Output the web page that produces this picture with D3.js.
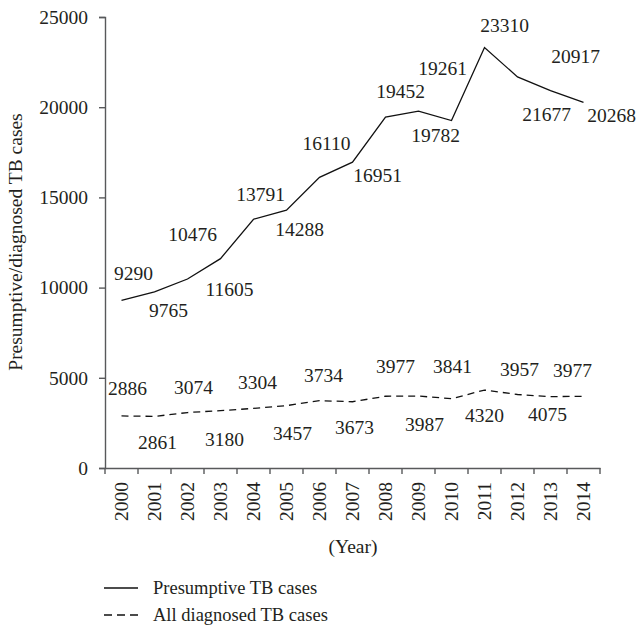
<!DOCTYPE html>
<html>
<head>
<meta charset="utf-8">
<script src="https://cdn.jsdelivr.net/npm/d3@7"></script>
<style>
  body { margin: 0; background: #fff; }
  text { font-family: "Liberation Serif", "DejaVu Serif", serif; fill: #231f20; }
</style>
</head>
<body>
<svg id="chart" width="638" height="631"></svg>
<script>
// data
var years = ['2000', '2001', '2002', '2003', '2004', '2005', '2006', '2007',
  '2008', '2009', '2010', '2011', '2012', '2013', '2014']
var presumptive = [9290, 9765, 10476, 11605, 13791, 14288, 16110, 16951,
  19452, 19782, 19261, 23310, 21677, 20917, 20268]
var diagnosed = [2886, 2861, 3074, 3180, 3304, 3457, 3734, 3673,
  3977, 3987, 3841, 4320, 4075, 3957, 3977]
var yTicks = [0, 5000, 10000, 15000, 20000, 25000]

// label nudges (px) from each point, the way the source places them
var presNudge = [[12, -20], [14, 25], [5, -38], [9, 37], [7, -18], [13, 26], [7, -27],
  [25, 20], [15, -19], [17, 31], [-9, -46], [20, -15], [29, 44], [25, -28], [28, 20]]
var diagNudge = [[6, -21], [3, 33], [6, -19], [4, 35], [4, -19], [6, 34], [4, -19],
  [2, 32], [10, -23], [6, 35], [1, -26], [0, 32], [30, 27], [-31, -21], [-11, -19]]

var svg = d3.select('#chart')
var fs = 19.5

var x = d3.scaleBand().domain(years).range([105, 600])
var y = d3.scaleLinear().domain([0, 25000]).range([468, 17])

var axisColor = '#58595b'

var yAxis = svg.append('g')
  .attr('transform', 'translate(105,0)')
  .call(d3.axisLeft(y).tickValues(yTicks).tickSize(6).tickPadding(11).tickFormat(d3.format('d')))
yAxis.select('.domain').attr('stroke', axisColor).attr('stroke-width', 1.4)
yAxis.selectAll('.tick line').attr('stroke', axisColor).attr('stroke-width', 1.4)
yAxis.selectAll('.tick text').style('font-size', fs + 'px').attr('font-family', null)

var xAxis = svg.append('g')
  .attr('transform', 'translate(0,468)')
  .call(d3.axisBottom(x).tickSize(0).tickPadding(0))
xAxis.select('.domain').attr('stroke', axisColor).attr('stroke-width', 1.4)
xAxis.selectAll('.tick text')
  .style('font-size', fs + 'px')
  .attr('font-family', null)
  .attr('text-anchor', 'end')
  .attr('transform', 'rotate(-90)')
  .attr('x', -14)
  .attr('y', 0)
  .attr('dy', '0.35em')

// ticks sit at the band edges
var edges = years.map(function(d) { return x(d) }).concat([x.range()[1]])
xAxis.selectAll('.edge')
  .data(edges)
  .enter()
  .append('line')
  .attr('x1', function(d) { return d })
  .attr('x2', function(d) { return d })
  .attr('y1', 0)
  .attr('y2', 6)
  .attr('stroke', axisColor)
  .attr('stroke-width', 1.4)

var cx = function(i) { return x(years[i]) + x.bandwidth() / 2 }

var line = d3.line()
  .x(function(d, i) { return cx(i) })
  .y(function(d) { return y(d) })

svg.append('path')
  .datum(presumptive)
  .attr('d', line)
  .attr('fill', 'none')
  .attr('stroke', '#111')
  .attr('stroke-width', 1.3)

svg.append('path')
  .datum(diagnosed)
  .attr('d', line)
  .attr('fill', 'none')
  .attr('stroke', '#111')
  .attr('stroke-width', 1.3)
  .attr('stroke-dasharray', '7,5')

function labels(values, nudge) {
  svg.append('g')
    .selectAll('text')
    .data(values)
    .enter()
    .append('text')
    .attr('x', function(d, i) { return cx(i) + nudge[i][0] })
    .attr('y', function(d, i) { return y(d) + nudge[i][1] })
    .attr('text-anchor', 'middle')
    .style('font-size', fs + 'px')
    .text(function(d) { return d })
}
labels(presumptive, presNudge)
labels(diagnosed, diagNudge)

// axis titles
svg.append('text')
  .attr('transform', 'translate(22,242) rotate(-90)')
  .attr('text-anchor', 'middle')
  .style('font-size', fs + 'px')
  .text('Presumptive/diagnosed TB cases')

svg.append('text')
  .attr('x', 353)
  .attr('y', 553)
  .attr('text-anchor', 'middle')
  .style('font-size', fs + 'px')
  .text('(Year)')

// legend
var legend = [
  { name: 'Presumptive TB cases', dash: null },
  { name: 'All diagnosed TB cases', dash: '8,5' }
]
var lg = svg.append('g').selectAll('g')
  .data(legend)
  .enter()
  .append('g')
  .attr('transform', function(d, i) { return 'translate(104,' + (588 + i * 27) + ')' })
lg.append('line')
  .attr('x1', 0).attr('x2', 34)
  .attr('stroke', '#111')
  .attr('stroke-width', 1.3)
  .attr('stroke-dasharray', function(d) { return d.dash })
lg.append('text')
  .attr('x', 49)
  .attr('y', 6)
  .style('font-size', '18.5px')
  .text(function(d) { return d.name })
</script>
</body>
</html>
